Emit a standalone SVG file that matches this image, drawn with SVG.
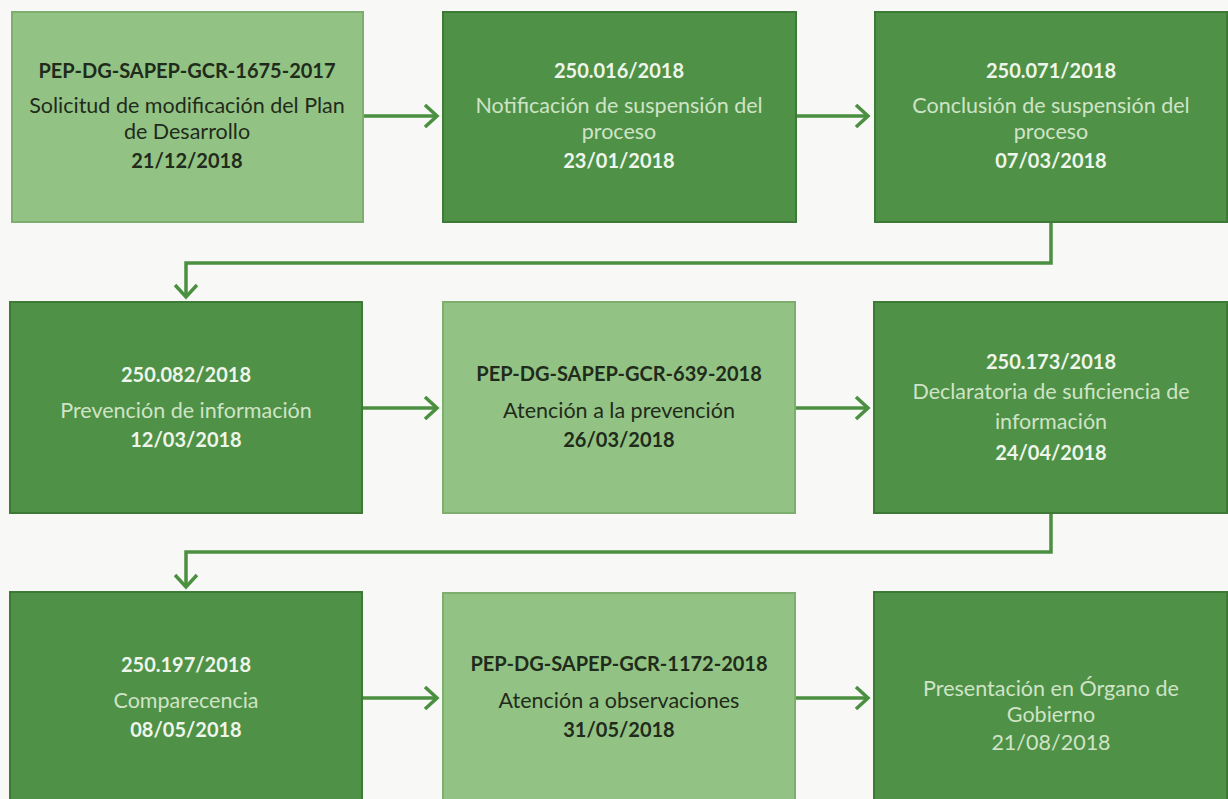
<svg xmlns="http://www.w3.org/2000/svg" width="1228" height="799" viewBox="0 0 1228 799">
<style>
.bg{fill:#f8f8f6}
.dk{fill:#4f9146;stroke:#3c7a35;stroke-width:2}
.lt{fill:#93c384;stroke:#7eae6e;stroke-width:2}
text{font-family:Lato,"Open Sans",sans-serif;text-anchor:middle;font-size:21.5px}
.b{font-weight:bold;font-size:20px}
.dt{fill:#1f2b1b}
.wb{fill:#eef5ea}
.wn{fill:#cfe4c6}
.con{fill:none;stroke:#4b8f41;stroke-width:3.5}
</style>
<defs>
<marker id="ah" viewBox="0 0 24 24" refX="21" refY="12" markerWidth="24" markerHeight="24" markerUnits="userSpaceOnUse" orient="auto">
<path d="M9 1 L21 12 L9 23" fill="none" stroke="#4b8f41" stroke-width="3.5"/>
</marker>
</defs>
<rect class="bg" x="0" y="0" width="1228" height="799"/>
<g id="connectors">
<line class="con" x1="363" y1="116" x2="437" y2="116" marker-end="url(#ah)"/>
<line class="con" x1="796" y1="116" x2="868" y2="116" marker-end="url(#ah)"/>
<polyline class="con" points="1051,222 1051,263 186,263 186,297" marker-end="url(#ah)"/>
<line class="con" x1="362" y1="408" x2="437" y2="408" marker-end="url(#ah)"/>
<line class="con" x1="795" y1="408" x2="868" y2="408" marker-end="url(#ah)"/>
<polyline class="con" points="1051,513 1051,552 186,552 186,587" marker-end="url(#ah)"/>
<line class="con" x1="362" y1="698" x2="437" y2="698" marker-end="url(#ah)"/>
<line class="con" x1="795" y1="698" x2="868" y2="698" marker-end="url(#ah)"/>
</g>
<g id="n1">
<rect class="lt" x="12" y="12" width="351" height="210"/>
<text class="b dt" x="187" y="78">PEP-DG-SAPEP-GCR-1675-2017</text>
<text class="dt" x="187" y="113">Solicitud de modificación del Plan</text>
<text class="dt" x="187" y="139">de Desarrollo</text>
<text class="b dt" x="187" y="168">21/12/2018</text>
</g>
<g id="n2">
<rect class="dk" x="443" y="12" width="353" height="210"/>
<text class="b wb" x="619" y="78">250.016/2018</text>
<text class="wn" x="619" y="113">Notificación de suspensión del</text>
<text class="wn" x="619" y="139">proceso</text>
<text class="b wb" x="619" y="168">23/01/2018</text>
</g>
<g id="n3">
<rect class="dk" x="875" y="12" width="352" height="210"/>
<text class="b wb" x="1051" y="78">250.071/2018</text>
<text class="wn" x="1051" y="113">Conclusión de suspensión del</text>
<text class="wn" x="1051" y="139">proceso</text>
<text class="b wb" x="1051" y="168">07/03/2018</text>
</g>
<g id="n4">
<rect class="dk" x="10" y="302" width="352" height="211"/>
<text class="b wb" x="186" y="382">250.082/2018</text>
<text class="wn" x="186" y="418">Prevención de información</text>
<text class="b wb" x="186" y="447">12/03/2018</text>
</g>
<g id="n5">
<rect class="lt" x="443" y="302" width="352" height="211"/>
<text class="b dt" x="619" y="381">PEP-DG-SAPEP-GCR-639-2018</text>
<text class="dt" x="619" y="418">Atención a la prevención</text>
<text class="b dt" x="619" y="447">26/03/2018</text>
</g>
<g id="n6">
<rect class="dk" x="874" y="302" width="353" height="211"/>
<text class="b wb" x="1051" y="369">250.173/2018</text>
<text class="wn" x="1051" y="399">Declaratoria de suficiencia de</text>
<text class="wn" x="1051" y="429">información</text>
<text class="b wb" x="1051" y="460">24/04/2018</text>
</g>
<g id="n7">
<rect class="dk" x="10" y="592" width="352" height="215"/>
<text class="b wb" x="186" y="672">250.197/2018</text>
<text class="wn" x="186" y="708">Comparecencia</text>
<text class="b wb" x="186" y="737">08/05/2018</text>
</g>
<g id="n8">
<rect class="lt" x="443" y="593" width="352" height="215"/>
<text class="b dt" x="619" y="671">PEP-DG-SAPEP-GCR-1172-2018</text>
<text class="dt" x="619" y="708">Atención a observaciones</text>
<text class="b dt" x="619" y="737">31/05/2018</text>
</g>
<g id="n9">
<rect class="dk" x="874" y="592" width="353" height="215"/>
<text class="wn" x="1051" y="696">Presentación en Órgano de</text>
<text class="wn" x="1051" y="722">Gobierno</text>
<text class="wn" x="1051" y="750">21/08/2018</text>
</g>
</svg>
